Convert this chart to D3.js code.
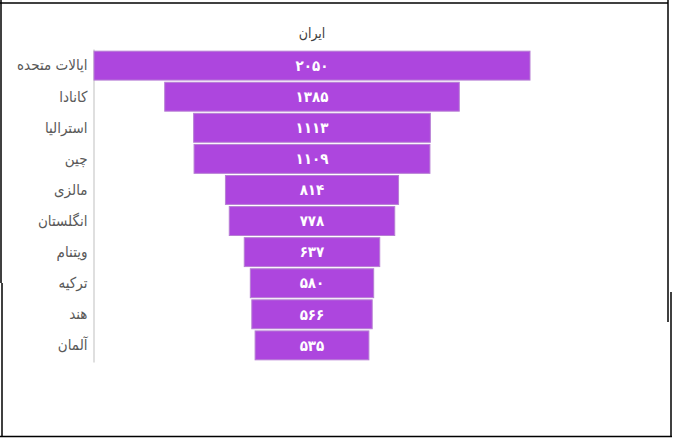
<!DOCTYPE html>
<html>
<head>
<meta charset="utf-8">
<script src="https://cdn.jsdelivr.net/npm/d3@7"></script>
<style>
  html, body { margin: 0; padding: 0; background: #fff; }
  svg { display: block; }
</style>
</head>
<body>
<div id="chart"></div>
<script>
// data
let countries = ["ایالات متحده", "کانادا", "استرالیا", "چین", "مالزی", "انگلستان", "ویتنام", "ترکیه", "هند", "آلمان"];
let students = [2050, 1385, 1113, 1109, 814, 778, 637, 580, 566, 535];
let chart_title = "ایران";

let W = 673, H = 438;
let center_x = 312;

let svg = d3.select('#chart').append('svg')
    .attr("width", W)
    .attr("height", H);

// frame (the screenshot has a slightly broken border)
let frame = svg.append('g').attr("stroke", "#000").attr("stroke-width", 1.5).attr("fill", "none");
frame.append("line").attr("x1", 0).attr("y1", 3).attr("x2", 668).attr("y2", 3);
frame.append("line").attr("x1", 1).attr("y1", 0).attr("x2", 1).attr("y2", 283);
frame.append("line").attr("x1", 2).attr("y1", 283).attr("x2", 2).attr("y2", 436);
frame.append("line").attr("x1", 0).attr("y1", 436.5).attr("x2", 672).attr("y2", 436.5);
frame.append("line").attr("x1", 668).attr("y1", 0).attr("x2", 668).attr("y2", 322);
frame.append("line").attr("x1", 671).attr("y1", 292).attr("x2", 671).attr("y2", 436);

let x = d3.scaleLinear()
    .domain([0, 2050])
    .range([0, 436]);

let y = d3.scaleBand()
    .domain(countries)
    .range([49, 362])
    .padding(0.07);

function faNum(v) {
    return String(v).replace(/\d/g, function (d) { return "۰۱۲۳۴۵۶۷۸۹"[d]; });
}

// title
svg.append("text")
    .attr("x", center_x)
    .attr("y", 38)
    .attr("text-anchor", "middle")
    .style("font-family", "'DejaVu Sans Condensed', 'DejaVu Sans', sans-serif")
    .style("font-size", "14px")
    .attr("fill", "#404040")
    .text(chart_title);

// category axis
let axis = svg.append('g')
    .attr("transform", "translate(93.5,0)")
    .call(d3.axisLeft(y).tickSize(0).tickPadding(6));
axis.select(".domain").attr("stroke", "#bfbfbf");
axis.selectAll("text")
    .style("font-family", "'DejaVu Sans Condensed', 'DejaVu Sans', sans-serif")
    .style("font-size", "15px")
    .attr("fill", "#595959");

// funnel bars
let bars = svg.append('g');
bars.selectAll("rect")
    .data(countries)
    .enter()
    .append("rect")
    .attr("x", function (d, i) { return center_x - x(students[i]) / 2; })
    .attr("y", function (d) { return y(d); })
    .attr("width", function (d, i) { return x(students[i]); })
    .attr("height", y.bandwidth())
    .attr("fill", "#ad46de")
    .attr("stroke", "#b77fd4")
    .attr("stroke-width", 1);

bars.selectAll("text")
    .data(countries)
    .enter()
    .append("text")
    .attr("x", center_x)
    .attr("y", function (d) { return y(d) + y.bandwidth() / 2; })
    .attr("dy", "0.35em")
    .attr("text-anchor", "middle")
    .style("font-family", "'DejaVu Sans Condensed', 'DejaVu Sans', sans-serif")
    .style("font-size", "15px")
    .style("font-weight", "bold")
    .attr("fill", "#fff")
    .text(function (d, i) { return faNum(students[i]); });
</script>
</body>
</html>
